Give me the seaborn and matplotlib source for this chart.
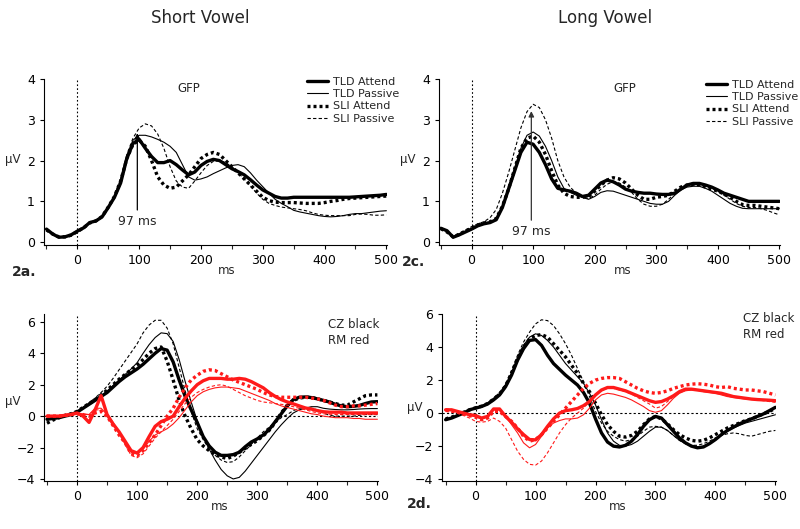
import matplotlib
matplotlib.use("Agg")
import matplotlib.pyplot as plt
import numpy as np
import pandas as pd
import seaborn as sns

# time base (ms), one value every 10 ms
ms = list(range(-50, 501, 10))

# ---- 2a: short vowel GFP ----
a_tld_att = [0.32, 0.20, 0.12, 0.13, 0.18,
             0.27, 0.35, 0.48, 0.52, 0.62, 0.85, 1.10, 1.45, 2.05, 2.42,
             2.52, 2.30, 2.10, 1.95, 1.95, 2.00, 1.90, 1.77, 1.65, 1.72,
             1.88, 1.98, 2.03, 2.00, 1.90, 1.80, 1.73, 1.65, 1.53, 1.40,
             1.28, 1.20, 1.12, 1.08, 1.08, 1.10, 1.10, 1.10, 1.10, 1.10,
             1.10, 1.10, 1.10, 1.10, 1.10, 1.11, 1.12, 1.13, 1.14, 1.15, 1.17]
a_tld_pas = [0.30, 0.19, 0.12, 0.13, 0.18,
             0.27, 0.36, 0.48, 0.53, 0.64, 0.87, 1.12, 1.48, 2.10, 2.50,
             2.62, 2.62, 2.58, 2.52, 2.45, 2.35, 2.20, 1.90, 1.60, 1.52,
             1.55, 1.60, 1.68, 1.75, 1.82, 1.88, 1.90, 1.85, 1.70, 1.52,
             1.36, 1.20, 1.05, 0.95, 0.87, 0.78, 0.74, 0.71, 0.68, 0.65,
             0.63, 0.62, 0.63, 0.65, 0.68, 0.70, 0.70, 0.72, 0.74, 0.76, 0.77]
a_sli_att = [0.30, 0.20, 0.13, 0.13, 0.17,
             0.26, 0.35, 0.47, 0.52, 0.63, 0.86, 1.12, 1.50, 2.05, 2.40,
             2.50, 2.35, 2.00, 1.60, 1.40, 1.32, 1.35, 1.50, 1.65, 1.85,
             2.05, 2.15, 2.20, 2.15, 2.00, 1.85, 1.70, 1.55, 1.40, 1.25,
             1.10, 1.02, 0.98, 0.97, 0.97, 0.97, 0.96, 0.95, 0.95, 0.95,
             0.97, 1.00, 1.02, 1.05, 1.07, 1.08, 1.09, 1.10, 1.11, 1.12, 1.13]
a_sli_pas = [0.30, 0.19, 0.12, 0.13, 0.18,
             0.27, 0.36, 0.48, 0.53, 0.64, 0.88, 1.15, 1.55, 2.15, 2.55,
             2.80, 2.90, 2.85, 2.65, 2.30, 1.85, 1.50, 1.35, 1.32, 1.50,
             1.70, 1.88, 1.98, 2.00, 1.95, 1.85, 1.70, 1.55, 1.38, 1.20,
             1.05, 0.95, 0.90, 0.86, 0.84, 0.82, 0.80, 0.77, 0.72, 0.68,
             0.66, 0.65, 0.65, 0.65, 0.65, 0.68, 0.69, 0.68, 0.66, 0.66, 0.67]

# ---- 2c: long vowel GFP ----
c_tld_att = [0.34, 0.28, 0.12, 0.18, 0.25,
             0.32, 0.40, 0.45, 0.48, 0.55, 0.85, 1.30, 1.75, 2.20, 2.45,
             2.40, 2.20, 1.90, 1.55, 1.32, 1.28, 1.25, 1.20, 1.12, 1.15,
             1.30, 1.45, 1.52, 1.48, 1.40, 1.30, 1.25, 1.22, 1.20, 1.20,
             1.18, 1.17, 1.17, 1.20, 1.30, 1.40, 1.44, 1.44, 1.40, 1.35,
             1.28, 1.20, 1.15, 1.10, 1.05, 1.00, 1.00, 1.00, 1.00, 1.00, 1.00]
c_tld_pas = [0.33, 0.26, 0.12, 0.18, 0.26,
             0.33, 0.41, 0.46, 0.49, 0.57, 0.88, 1.35, 1.80, 2.30, 2.62,
             2.70, 2.60, 2.35, 2.00, 1.60, 1.32, 1.22, 1.15, 1.10, 1.05,
             1.12, 1.22, 1.26, 1.25, 1.20, 1.15, 1.10, 1.05, 1.00, 0.95,
             0.93, 0.93, 1.00, 1.15, 1.28, 1.35, 1.37, 1.37, 1.32, 1.25,
             1.15, 1.05, 0.95, 0.88, 0.83, 0.82, 0.82, 0.82, 0.82, 0.82, 0.82]
c_sli_att = [0.33, 0.25, 0.13, 0.19, 0.27,
             0.34, 0.42, 0.47, 0.50, 0.58, 0.88, 1.30, 1.80, 2.30, 2.55,
             2.60, 2.45, 2.15, 1.75, 1.40, 1.20, 1.12, 1.10, 1.10, 1.12,
             1.25, 1.40, 1.52, 1.58, 1.55, 1.45, 1.30, 1.15, 1.05, 1.05,
             1.10, 1.12, 1.15, 1.25, 1.35, 1.40, 1.42, 1.40, 1.35, 1.30,
             1.25, 1.18, 1.10, 1.00, 0.92, 0.90, 0.90, 0.88, 0.86, 0.84, 0.82]
c_sli_pas = [0.32, 0.24, 0.15, 0.22, 0.30,
             0.38, 0.45, 0.50, 0.60, 0.80, 1.20, 1.70, 2.25, 2.80, 3.20,
             3.38, 3.30, 3.00, 2.55, 2.00, 1.60, 1.35, 1.20, 1.12, 1.07,
             1.15, 1.30, 1.42, 1.48, 1.45, 1.35, 1.22, 1.05, 0.93, 0.88,
             0.88, 0.93, 1.05, 1.20, 1.32, 1.38, 1.40, 1.40, 1.37, 1.32,
             1.25, 1.15, 1.05, 0.95, 0.88, 0.85, 0.85, 0.82, 0.78, 0.72, 0.67]

# ---- 2b: short vowel, CZ (black) and RM (red) ----
b_cz_tld_att = [-0.20, -0.15, -0.10, 0.00, 0.10,
                0.25, 0.50, 0.75, 1.00, 1.25, 1.50, 1.85, 2.20, 2.50, 2.75,
                3.00, 3.30, 3.65, 4.00, 4.30, 4.20, 3.45, 2.30, 1.25, 0.40,
                -0.40, -1.30, -1.90, -2.30, -2.50, -2.50, -2.45, -2.30, -1.95, -1.65,
                -1.45, -1.20, -0.85, -0.35, 0.15, 0.65, 1.05, 1.20, 1.22, 1.18,
                1.10, 1.00, 0.90, 0.75, 0.65, 0.60, 0.62, 0.68, 0.80, 0.90, 0.92]
b_cz_tld_pas = [-0.20, -0.15, -0.08, 0.02, 0.12,
                0.28, 0.52, 0.78, 1.05, 1.30, 1.58, 1.95, 2.30, 2.65, 3.00,
                3.40, 4.00, 4.55, 5.00, 5.30, 5.25, 4.75, 3.60, 2.20, 0.90,
                -0.30, -1.30, -2.10, -2.80, -3.40, -3.80, -4.00, -3.90, -3.50, -3.00,
                -2.50, -2.00, -1.50, -1.00, -0.55, -0.15, 0.20, 0.40, 0.50, 0.60,
                0.60, 0.50, 0.45, 0.42, 0.40, 0.40, 0.42, 0.45, 0.47, 0.48, 0.48]
b_cz_sli_att = [-0.45, -0.25, -0.10, 0.05, 0.15,
                0.30, 0.55, 0.80, 1.05, 1.35, 1.65, 2.00, 2.35, 2.65, 2.95,
                3.25, 3.60, 4.00, 4.30, 4.40, 3.50, 2.30, 1.00, 0.00, -0.80,
                -1.50, -1.90, -2.20, -2.45, -2.60, -2.70, -2.55, -2.30, -2.05, -1.80,
                -1.55, -1.25, -0.90, -0.40, 0.20, 0.70, 1.00, 1.15, 1.20, 1.20,
                1.10, 1.00, 0.90, 0.80, 0.70, 0.70, 0.90, 1.10, 1.30, 1.35, 1.35]
b_cz_sli_pas = [-0.25, -0.15, -0.05, 0.05, 0.15,
                0.30, 0.55, 0.85, 1.15, 1.50, 1.90, 2.40, 2.95, 3.50, 4.05,
                4.60, 5.30, 5.80, 6.10, 6.10, 5.60, 4.60, 3.10, 1.60, 0.30,
                -0.80, -1.50, -2.10, -2.50, -2.80, -2.95, -2.90, -2.60, -2.20, -1.80,
                -1.40, -1.00, -0.70, -0.40, -0.10, 0.10, 0.35, 0.50, 0.55, 0.50,
                0.40, 0.20, 0.05, 0.00, 0.00, 0.00, 0.00, 0.05, 0.10, 0.10, 0.10]
b_rm_tld_att = [0.00, 0.00, 0.00, 0.05, 0.10,
                0.20, 0.00, -0.40, 0.40, 1.30, 0.10, -0.50, -1.00, -1.60, -2.20,
                -2.35, -2.00, -1.30, -0.65, -0.35, -0.20, 0.00, 0.60, 1.15, 1.60,
                2.00, 2.25, 2.40, 2.40, 2.40, 2.35, 2.35, 2.40, 2.35, 2.20,
                2.00, 1.80, 1.50, 1.25, 1.05, 0.90, 0.78, 0.65, 0.52, 0.45,
                0.35, 0.28, 0.25, 0.25, 0.25, 0.20, 0.20, 0.20, 0.20, 0.20, 0.20]
b_rm_tld_pas = [0.00, 0.00, 0.00, 0.05, 0.10,
                0.15, 0.10, 0.10, 0.50, 0.50, 0.10, -0.40, -1.00, -1.70, -2.30,
                -2.40, -2.10, -1.60, -1.20, -1.00, -0.80, -0.50, -0.10, 0.40, 0.90,
                1.30, 1.55, 1.70, 1.80, 1.85, 1.85, 1.80, 1.75, 1.60, 1.45,
                1.30, 1.15, 1.00, 0.80, 0.65, 0.55, 0.45, 0.35, 0.25, 0.15,
                0.10, 0.00, -0.05, -0.10, -0.10, -0.10, -0.15, -0.15, -0.20, -0.20, -0.20]
b_rm_sli_att = [0.00, 0.00, 0.00, 0.05, 0.10,
                0.15, 0.10, 0.00, 0.20, 0.30, 0.00, -0.60, -1.20, -1.70, -2.40,
                -2.50, -2.20, -1.70, -1.20, -0.60, 0.00, 0.50, 1.20, 1.80, 2.30,
                2.60, 2.85, 2.95, 2.90, 2.70, 2.50, 2.30, 2.15, 2.00, 1.85,
                1.70, 1.50, 1.35, 1.25, 1.20, 1.20, 1.20, 1.20, 1.20, 1.15,
                1.10, 1.00, 0.85, 0.70, 0.60, 0.60, 0.65, 0.65, 0.70, 0.75, 0.80]
b_rm_sli_pas = [0.00, 0.00, 0.00, 0.05, 0.10,
                0.15, 0.15, 0.10, 0.40, 0.40, 0.00, -0.50, -1.10, -1.80, -2.50,
                -2.65, -2.40, -1.90, -1.40, -1.00, -0.60, -0.20, 0.30, 0.80, 1.20,
                1.50, 1.70, 1.85, 1.95, 2.00, 1.90, 1.70, 1.50, 1.30, 1.15,
                1.00, 0.90, 0.85, 0.80, 0.75, 0.70, 0.60, 0.50, 0.40, 0.30,
                0.20, 0.15, 0.12, 0.10, 0.10, 0.10, 0.10, 0.10, 0.10, 0.10, 0.10]

# ---- 2d: long vowel, CZ (black) and RM (red) ----
d_cz_tld_att = [-0.40, -0.30, -0.15, 0.00, 0.20,
                0.30, 0.40, 0.55, 0.80, 1.10, 1.60, 2.30, 3.20, 3.90, 4.40,
                4.45, 4.10, 3.50, 3.00, 2.65, 2.30, 2.00, 1.70, 1.25, 0.60,
                -0.35, -1.20, -1.75, -2.00, -2.05, -1.95, -1.70, -1.30, -0.80, -0.40,
                -0.20, -0.30, -0.70, -1.10, -1.50, -1.80, -2.00, -2.10, -2.05, -1.85,
                -1.60, -1.30, -1.05, -0.85, -0.65, -0.50, -0.35, -0.20, -0.05, 0.15, 0.35]
d_cz_tld_pas = [-0.40, -0.30, -0.15, 0.00, 0.20,
                0.32, 0.42, 0.58, 0.85, 1.15, 1.65, 2.40, 3.35, 4.10, 4.60,
                4.80, 4.70, 4.40, 4.00, 3.50, 3.00, 2.60, 2.20, 1.80, 1.20,
                0.50, -0.40, -1.20, -1.70, -1.95, -2.00, -1.90, -1.70, -1.40, -1.10,
                -0.85, -0.85, -1.05, -1.35, -1.65, -1.85, -2.00, -2.05, -2.00, -1.85,
                -1.60, -1.35, -1.10, -0.90, -0.75, -0.60, -0.50, -0.40, -0.30, -0.20, -0.10]
d_cz_sli_att = [-0.35, -0.25, -0.10, 0.05, 0.20,
                0.32, 0.42, 0.58, 0.85, 1.15, 1.65, 2.40, 3.30, 4.00, 4.50,
                4.70, 4.75, 4.60, 4.20, 3.80, 3.40, 2.90, 2.40, 1.80, 1.30,
                0.60, -0.10, -0.70, -1.10, -1.40, -1.45, -1.35, -1.10, -0.70, -0.35,
                -0.20, -0.35, -0.65, -1.00, -1.30, -1.50, -1.65, -1.70, -1.65, -1.50,
                -1.30, -1.10, -0.90, -0.75, -0.60, -0.45, -0.35, -0.20, -0.05, 0.10, 0.30]
d_cz_sli_pas = [-0.35, -0.25, -0.10, 0.05, 0.20,
                0.35, 0.45, 0.60, 0.90, 1.25, 1.75, 2.60, 3.50, 4.30, 4.90,
                5.40, 5.65, 5.60, 5.30, 4.80, 4.20, 3.50, 2.70, 1.90, 1.00,
                0.10, -0.60, -1.10, -1.40, -1.60, -1.70, -1.60, -1.40, -1.10, -0.85,
                -0.80, -0.85, -1.05, -1.35, -1.65, -1.85, -1.95, -1.95, -1.85, -1.70,
                -1.50, -1.35, -1.25, -1.20, -1.25, -1.35, -1.40, -1.30, -1.20, -1.10, -1.05]
d_rm_tld_att = [0.20, 0.20, 0.10, 0.00, -0.10,
                -0.15, -0.30, -0.20, 0.25, 0.25, -0.20, -0.55, -0.95, -1.30, -1.60,
                -1.62, -1.30, -0.80, -0.35, 0.00, 0.15, 0.20, 0.28, 0.45, 0.70,
                1.10, 1.40, 1.55, 1.55, 1.45, 1.35, 1.20, 1.05, 0.90, 0.75,
                0.65, 0.70, 0.85, 1.05, 1.30, 1.45, 1.45, 1.40, 1.35, 1.30,
                1.25, 1.20, 1.10, 1.00, 0.95, 0.90, 0.85, 0.82, 0.80, 0.78, 0.75]
d_rm_tld_pas = [0.20, 0.20, 0.10, 0.00, -0.10,
                -0.20, -0.35, -0.20, 0.20, 0.20, -0.20, -0.70, -1.20, -1.80, -2.10,
                -1.90, -1.40, -0.90, -0.60, -0.45, -0.35, -0.35, -0.30, -0.10, 0.30,
                0.80, 1.10, 1.20, 1.15, 1.05, 0.95, 0.80, 0.60, 0.40, 0.15,
                0.05, 0.15, 0.50, 0.90, 1.20, 1.35, 1.40, 1.38, 1.30, 1.25,
                1.20, 1.10, 1.00, 0.95, 0.90, 0.85, 0.82, 0.80, 0.78, 0.76, 0.75]
d_rm_sli_att = [0.20, 0.15, 0.05, -0.05, -0.15,
                -0.25, -0.40, -0.30, 0.10, 0.10, -0.20, -0.50, -0.90, -1.40, -1.70,
                -1.60, -1.30, -0.90, -0.50, -0.10, 0.30, 0.70, 1.10, 1.50, 1.80,
                2.00, 2.10, 2.15, 2.15, 2.10, 1.90, 1.70, 1.50, 1.35, 1.25,
                1.20, 1.25, 1.35, 1.50, 1.60, 1.70, 1.75, 1.78, 1.75, 1.70,
                1.60, 1.55, 1.60, 1.50, 1.45, 1.40, 1.40, 1.35, 1.30, 1.20, 1.10]
d_rm_sli_pas = [0.10, 0.05, 0.00, -0.15, -0.30,
                -0.50, -0.55, -0.50, -0.30, -0.50, -0.90, -1.60, -2.30, -2.80, -3.10,
                -3.15, -2.90, -2.40, -1.80, -1.20, -0.70, -0.30, 0.00, 0.30, 0.70,
                1.10, 1.35, 1.50, 1.50, 1.40, 1.30, 1.15, 0.95, 0.75, 0.55,
                0.30, 0.40, 0.70, 1.00, 1.25, 1.40, 1.45, 1.42, 1.38, 1.32,
                1.25, 1.15, 1.05, 1.00, 0.95, 0.90, 0.85, 0.80, 0.75, 0.70, 0.65]

groups = ["TLD Attend", "TLD Passive", "SLI Attend", "SLI Passive"]

sns.set_style("ticks")
plt.rcParams['font.family'] = ['DejaVu Sans']
plt.rcParams['xtick.major.size'] = 3
plt.rcParams['ytick.major.size'] = 3
plt.rcParams['xtick.minor.size'] = 3

STY = {
    "TLD Attend": dict(lw=2.4, linestyle='-'),
    "TLD Passive": dict(lw=0.8, linestyle='-'),
    "SLI Attend": dict(lw=2.4, linestyle=(0, (0.9, 0.9))),
    "SLI Passive": dict(lw=0.8, linestyle=(0, (3, 2))),
}


def long_table(series):
    rows = []
    for (site, grp), vals in series.items():
        rows.append(pd.DataFrame({"ms": ms, "uV": vals, "site": site, "group": grp}))
    return pd.concat(rows, ignore_index=True)


df_a = long_table({("GFP", g): v for g, v in zip(groups, [a_tld_att, a_tld_pas, a_sli_att, a_sli_pas])})
df_c = long_table({("GFP", g): v for g, v in zip(groups, [c_tld_att, c_tld_pas, c_sli_att, c_sli_pas])})
df_b = long_table({**{("CZ", g): v for g, v in zip(groups, [b_cz_tld_att, b_cz_tld_pas, b_cz_sli_att, b_cz_sli_pas])},
                   **{("RM", g): v for g, v in zip(groups, [b_rm_tld_att, b_rm_tld_pas, b_rm_sli_att, b_rm_sli_pas])}})
df_d = long_table({**{("CZ", g): v for g, v in zip(groups, [d_cz_tld_att, d_cz_tld_pas, d_cz_sli_att, d_cz_sli_pas])},
                   **{("RM", g): v for g, v in zip(groups, [d_rm_tld_att, d_rm_tld_pas, d_rm_sli_att, d_rm_sli_pas])}})

W, H = 800, 529
fig = plt.figure(figsize=(8, 5.29), dpi=100)


def box(l, r, t, b):
    return [l / W, 1 - b / H, (r - l) / W, (b - t) / H]


ax_a = fig.add_axes(box(44, 387, 79, 245))
ax_c = fig.add_axes(box(439, 780, 79, 245))
ax_b = fig.add_axes(box(44, 378, 314, 481))
ax_d = fig.add_axes(box(442, 776, 314, 481))

colors = {"GFP": "black", "CZ": "black", "RM": "#ff1a1a"}


def draw(ax, df, with_labels=False):
    for (site, grp), sub in df.groupby(["site", "group"], sort=False):
        sns.lineplot(data=sub, x="ms", y="uV", ax=ax, color=colors[site],
                     label=grp if with_labels else None, legend=False, **STY[grp])


draw(ax_a, df_a, True)
draw(ax_c, df_c, True)
draw(ax_b, df_b)
draw(ax_d, df_d)

ax_a.set_xlim(-54, 501); ax_a.set_ylim(-0.07, 4.0)
ax_c.set_xlim(-53, 501); ax_c.set_ylim(-0.07, 4.0)
ax_b.set_xlim(-55, 501); ax_b.set_ylim(-4.13, 6.5)
ax_d.set_xlim(-56, 501); ax_d.set_ylim(-4.11, 6.0)

for ax in [ax_a, ax_c, ax_b, ax_d]:
    sns.despine(ax=ax)
    ax.set_xlabel(""); ax.set_ylabel("")
    ax.set_xticks([0, 100, 200, 300, 400, 500])
    ax.set_xticks([-50, 50, 150, 250, 350, 450], minor=True)
    ax.tick_params(labelsize=9, width=0.8, colors='black')
    ax.tick_params(which='minor', width=0.8)
    for s in ax.spines.values():
        s.set_linewidth(0.8)
        s.set_color('black')
    ax.axvline(0, color='black', lw=0.8, ls=(0, (1.5, 2)), zorder=0)
for ax in [ax_a, ax_c]:
    ax.set_yticks([0, 1, 2, 3, 4])
for ax in [ax_b, ax_d]:
    ax.set_yticks([-4, -2, 0, 2, 4, 6])
    ax.axhline(0, color='black', lw=0.8, ls=(0, (2, 2)), zorder=0)

# 97 ms arrows
ax_a.annotate('', xy=(97, 2.74), xytext=(97, 0.72), zorder=5,
              arrowprops=dict(arrowstyle='-|>', color='black', lw=0.9, mutation_scale=8))
ax_a.text(97, 0.5, '97 ms', ha='center', va='center', fontsize=9)
ax_c.annotate('', xy=(97, 3.28), xytext=(97, 0.47), zorder=5,
              arrowprops=dict(arrowstyle='-|>', color='#333333', lw=0.9, mutation_scale=8))
ax_c.text(97, 0.26, '97 ms', ha='center', va='center', fontsize=9)

# legends
leg_kw = dict(bbox_transform=fig.transFigure, frameon=False, fontsize=8, handlelength=1.9,
              handletextpad=0.4, labelspacing=0.2, borderpad=0, borderaxespad=0, loc='upper left')
ax_a.legend(bbox_to_anchor=(307 / W, 1 - 77 / H), **leg_kw)
ax_c.legend(bbox_to_anchor=(706 / W, 1 - 80 / H), **leg_kw)


def ftext(x, y, s, **kw):
    fig.text(x / W, 1 - y / H, s, **kw)


ftext(200, 18, "Short Vowel", ha='center', va='center', fontsize=12)
ftext(605, 18, "Long Vowel", ha='center', va='center', fontsize=12)
ftext(189, 89, "GFP", ha='center', va='center', fontsize=8.5)
ftext(625, 89, "GFP", ha='center', va='center', fontsize=8.5)
ftext(328, 318, "CZ black\nRM red", ha='left', va='top', fontsize=8.5, linespacing=1.25)
ftext(743, 312, "CZ black\nRM red", ha='left', va='top', fontsize=8.5, linespacing=1.25)
ftext(12, 272, "2a.", ha='left', va='center', fontsize=10, fontweight='bold')
ftext(402, 262, "2c.", ha='left', va='center', fontsize=10, fontweight='bold')
ftext(407, 504, "2d.", ha='left', va='center', fontsize=10, fontweight='bold')
for x, y in [(227, 270), (623, 270), (220, 507), (618, 507)]:
    ftext(x, y, "ms", ha='center', va='center', fontsize=8.5)
for x, y in [(13, 160), (408, 160), (13, 402), (415, 408)]:
    ftext(x, y, "\u00b5V", ha='center', va='center', fontsize=8.5)

fig.savefig("out.png", dpi=100)
